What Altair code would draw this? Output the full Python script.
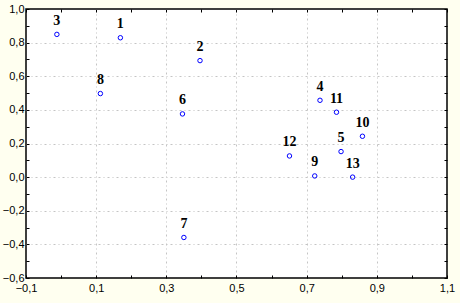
import altair as alt
import pandas as pd

labels = ["1", "2", "3", "4", "5", "6", "7", "8", "9", "10", "11", "12", "13"]
xs = [0.169, 0.396, -0.012, 0.738, 0.798, 0.346, 0.350, 0.112, 0.723, 0.859, 0.785, 0.651, 0.831]
ys = [0.829, 0.693, 0.849, 0.457, 0.152, 0.376, -0.359, 0.497, 0.007, 0.243, 0.386, 0.126, 0.000]

tick_values = [round(-0.1 + 0.1 * i, 1) for i in range(13)]
ytick_values = [round(-0.6 + 0.1 * i, 1) for i in range(17)]

df = pd.DataFrame({"label": labels, "x": xs, "y": ys})

label_expr = "(round(datum.value*10) % 2 != 0) ? replace(format(datum.value, '.1f'), '.', ',') : ''"
ylabel_expr = "(round(datum.value*10) % 2 == 0) ? replace(format(datum.value, '.1f'), '.', ',') : ''"

grid_color = "#c4c4c4"
grid_dash = [2, 3, 1, 3]

x_main = alt.Axis(
    values=tick_values, labelExpr=label_expr, title=None, domain=False,
    offset=-3, tickSize=3, tickColor="black", tickWidth=1, labelPadding=4,
    labelFont="Liberation Sans", labelFontSize=11, labelColor="black",
    grid=True, gridColor=grid_color, gridDash=grid_dash, gridWidth=1,
    gridOpacity={"condition": {"test": "round(datum.value*10) % 2 != 0 && datum.value > -0.05 && datum.value < 1.05", "value": 1}, "value": 0},
    labelFlush=False,
)
y_main = alt.Axis(
    values=ytick_values, labelExpr=ylabel_expr, title=None, domain=False,
    offset=-3, tickSize=3, tickColor="black", tickWidth=1, labelPadding=2,
    labelFont="Liberation Sans", labelFontSize=11, labelColor="black",
    grid=True, gridColor=grid_color, gridDash=grid_dash, gridWidth=1,
    gridOpacity={"condition": {"test": "round(datum.value*10) % 2 == 0 && datum.value > -0.55 && datum.value < 0.95", "value": 1}, "value": 0},
    labelFlush=False,
)
x_top = alt.Axis(values=tick_values, orient="top", labels=False, domain=False, grid=False,
                 offset=-3, tickSize=3, tickColor="black", tickWidth=1, title=None)
y_right = alt.Axis(values=ytick_values, orient="right", labels=False, domain=False, grid=False,
                   offset=-3, tickSize=3, tickColor="black", tickWidth=1, title=None)

xscale = alt.Scale(domain=[-0.1, 1.1], nice=False, zero=False)
yscale = alt.Scale(domain=[-0.6, 1.0], nice=False, zero=False)

points = alt.Chart(df).mark_point(
    shape="circle", filled=False, color="#0000ff", size=20, strokeWidth=1, opacity=1
).encode(
    x=alt.X("x:Q", scale=xscale, axis=x_main),
    y=alt.Y("y:Q", scale=yscale, axis=y_main),
)

text = alt.Chart(df).mark_text(
    font="Times New Roman, Liberation Serif, serif", fontWeight="bold", fontSize=14, color="black",
    dy=-13.5, baseline="middle", align="center"
).encode(
    x=alt.X("x:Q", scale=xscale, axis=x_top),
    y=alt.Y("y:Q", scale=yscale, axis=y_right),
    text="label:N",
)

chart = alt.layer(points, text).resolve_axis(x="independent", y="independent").properties(
    width=421, height=269,
    background="#FFFFF0",
    autosize=alt.AutoSizeParams(type="none"),
    padding={"left": 26, "top": 9, "right": 13, "bottom": 25},
).configure_view(
    fill="white", stroke="black", strokeWidth=1.5
)

chart.save("out.html", embed_options={"renderer": "svg", "actions": False})
